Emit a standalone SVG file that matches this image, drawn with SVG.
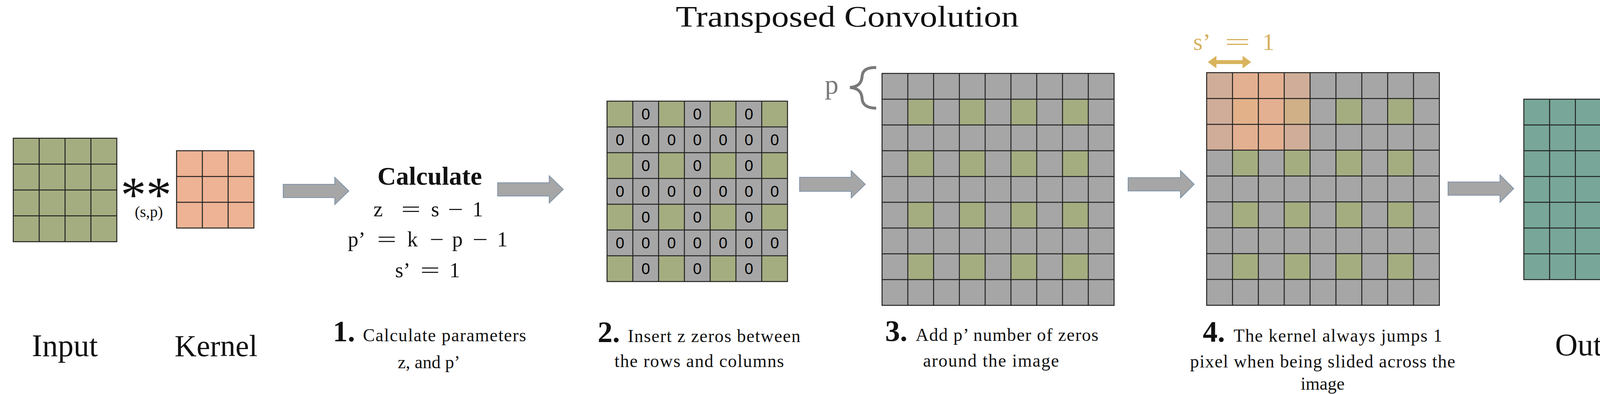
<svg xmlns="http://www.w3.org/2000/svg" width="4400" height="1009" viewBox="0 0 4400 1009">
<style>
.t{font-family:"Liberation Serif","Times New Roman",serif;fill:#111}
.bd{font-weight:bold}
.m{text-anchor:middle}
.eq{font-family:"Liberation Serif","Times New Roman",serif;font-size:54px;fill:#111;text-anchor:middle}
.z{font-family:"Liberation Sans",Arial,sans-serif;font-size:40px;fill:#000;text-anchor:middle}
.gl{fill:none;stroke:#222;stroke-width:2.5}
.gr{fill:#a6a6a6}
.gn{fill:#a4ad80}
.kn{fill:#edb394}
.tl{fill:#78a799}
.arr{fill:#a6a6a6;stroke:#7f93a8;stroke-width:2;stroke-linejoin:miter}
.ov{fill:#f2b28c;opacity:0.55}
.gold{font-family:"Liberation Serif","Times New Roman",serif;font-size:62px;fill:#d6b060;text-anchor:middle}
</style>
<rect width="4400" height="1009" fill="#fff"/>

<text id="title" class="t m" x="2169" y="68" font-size="76" textLength="878" lengthAdjust="spacingAndGlyphs">Transposed Convolution</text>

<g id="input">
<rect class="gn" x="34" y="354" width="265" height="265"/>
<path class="gl" d="M100.25,354V619M166.5,354V619M232.75,354V619M34,420.25H299M34,486.5H299M34,552.75H299"/>
<rect class="gl" x="34" y="354" width="265" height="265"/>
<text class="t m" x="166" y="912" font-size="80">Input</text>
</g>

<g id="operator">
<text class="t m" x="374" y="542" font-size="130">**</text>
<text class="t m" x="381" y="556" font-size="40">(s,p)</text>
</g>

<g id="kernel">
<rect class="kn" x="452" y="386" width="198" height="198"/>
<path class="gl" d="M518,386V584M584,386V584M452,452H650M452,518H650"/>
<rect class="gl" x="452" y="386" width="198" height="198"/>
<text class="t m" x="553" y="912" font-size="78">Kernel</text>
</g>

<g id="calculate">
<text class="t bd m" x="1100" y="473" font-size="66">Calculate</text>
<text class="eq" x="968" y="554">z</text>
<text class="eq" x="1052" y="554" textLength="50" lengthAdjust="spacingAndGlyphs">=</text>
<text class="eq" x="1114" y="554">s</text>
<text class="eq" x="1166" y="554" textLength="39" lengthAdjust="spacingAndGlyphs">−</text>
<text class="eq" x="1223" y="554">1</text>
<text class="eq" x="913" y="631">p’</text>
<text class="eq" x="990" y="631" textLength="50" lengthAdjust="spacingAndGlyphs">=</text>
<text class="eq" x="1056" y="631">k</text>
<text class="eq" x="1118" y="631" textLength="36" lengthAdjust="spacingAndGlyphs">−</text>
<text class="eq" x="1171" y="631">p</text>
<text class="eq" x="1229" y="631" textLength="39" lengthAdjust="spacingAndGlyphs">−</text>
<text class="eq" x="1286" y="631">1</text>
<text class="eq" x="1031" y="710">s’</text>
<text class="eq" x="1101" y="710" textLength="50" lengthAdjust="spacingAndGlyphs">=</text>
<text class="eq" x="1164" y="710">1</text>
<text class="t bd" x="852" y="874" font-size="76">1.</text>
<text class="t" x="929" y="874" font-size="46" textLength="418" lengthAdjust="spacing">Calculate parameters</text>
<text class="t m" x="1098" y="943" font-size="46">z, and p’</text>
</g>

<g id="zeros-inserted">
<rect class="gr" x="1554" y="259" width="462" height="462"/>
<g class="gn">
<rect x="1554" y="259" width="66" height="66"/><rect x="1686" y="259" width="66" height="66"/><rect x="1818" y="259" width="66" height="66"/><rect x="1950" y="259" width="66" height="66"/>
<rect x="1554" y="391" width="66" height="66"/><rect x="1686" y="391" width="66" height="66"/><rect x="1818" y="391" width="66" height="66"/><rect x="1950" y="391" width="66" height="66"/>
<rect x="1554" y="523" width="66" height="66"/><rect x="1686" y="523" width="66" height="66"/><rect x="1818" y="523" width="66" height="66"/><rect x="1950" y="523" width="66" height="66"/>
<rect x="1554" y="655" width="66" height="66"/><rect x="1686" y="655" width="66" height="66"/><rect x="1818" y="655" width="66" height="66"/><rect x="1950" y="655" width="66" height="66"/>
</g>
<path class="gl" d="M1620,259V721M1686,259V721M1752,259V721M1818,259V721M1884,259V721M1950,259V721M1554,325H2016M1554,391H2016M1554,457H2016M1554,523H2016M1554,589H2016M1554,655H2016"/>
<rect class="gl" x="1554" y="259" width="462" height="462"/>
<text class="z" x="1653 1785 1917" y="306">000</text>
<text class="z" x="1587 1653 1719 1785 1851 1917 1983" y="372">0000000</text>
<text class="z" x="1653 1785 1917" y="438">000</text>
<text class="z" x="1587 1653 1719 1785 1851 1917 1983" y="504">0000000</text>
<text class="z" x="1653 1785 1917" y="570">000</text>
<text class="z" x="1587 1653 1719 1785 1851 1917 1983" y="636">0000000</text>
<text class="z" x="1653 1785 1917" y="702">000</text>
<text class="t bd" x="1530" y="876" font-size="76">2.</text>
<text class="t" x="1607" y="876" font-size="46" textLength="442" lengthAdjust="spacing">Insert z zeros between</text>
<text class="t m" x="1790" y="940" font-size="46" textLength="434" lengthAdjust="spacing">the rows and columns</text>
</g>

<g id="padded">
<text class="m" x="2129" y="240" font-family="Liberation Serif, serif" font-size="70" fill="#7a7a7a">p</text>
<path d="M2243,173C2220,172 2208,180 2207,195C2206,212 2198,222 2176,224C2198,226 2206,236 2207,253C2208,268 2220,277 2243,277" fill="none" stroke="#7a7a7a" stroke-width="7.5" stroke-linecap="butt"/>
<rect class="gr" x="2258" y="188" width="594" height="594"/>
<g class="gn">
<rect x="2324" y="254" width="66" height="66"/><rect x="2456" y="254" width="66" height="66"/><rect x="2588" y="254" width="66" height="66"/><rect x="2720" y="254" width="66" height="66"/>
<rect x="2324" y="386" width="66" height="66"/><rect x="2456" y="386" width="66" height="66"/><rect x="2588" y="386" width="66" height="66"/><rect x="2720" y="386" width="66" height="66"/>
<rect x="2324" y="518" width="66" height="66"/><rect x="2456" y="518" width="66" height="66"/><rect x="2588" y="518" width="66" height="66"/><rect x="2720" y="518" width="66" height="66"/>
<rect x="2324" y="650" width="66" height="66"/><rect x="2456" y="650" width="66" height="66"/><rect x="2588" y="650" width="66" height="66"/><rect x="2720" y="650" width="66" height="66"/>
</g>
<path class="gl" d="M2324,188V782M2390,188V782M2456,188V782M2522,188V782M2588,188V782M2654,188V782M2720,188V782M2786,188V782M2258,254H2852M2258,320H2852M2258,386H2852M2258,452H2852M2258,518H2852M2258,584H2852M2258,650H2852M2258,716H2852"/>
<rect class="gl" x="2258" y="188" width="594" height="594"/>
<text class="t bd" x="2266" y="873" font-size="76">3.</text>
<text class="t" x="2344" y="873" font-size="46" textLength="468" lengthAdjust="spacing">Add p’ number of zeros</text>
<text class="t m" x="2537" y="939" font-size="46" textLength="348" lengthAdjust="spacing">around the image</text>
</g>

<g id="sliding">
<text class="gold" x="3077" y="128">s’</text>
<text class="gold" x="3168" y="128" textLength="66" lengthAdjust="spacingAndGlyphs">=</text>
<text class="gold" x="3247" y="128">1</text>
<polygon points="3092,159 3114,143 3114,154 3181,154 3181,143 3203,159 3181,175 3181,164 3114,164 3114,175" fill="#d9b45d"/>
<rect class="gr" x="3089" y="186" width="595.8" height="595.8"/>
<g class="gn">
<rect x="3155.2" y="252.2" width="66.2" height="66.2"/><rect x="3287.6" y="252.2" width="66.2" height="66.2"/><rect x="3420" y="252.2" width="66.2" height="66.2"/><rect x="3552.4" y="252.2" width="66.2" height="66.2"/>
<rect x="3155.2" y="384.6" width="66.2" height="66.2"/><rect x="3287.6" y="384.6" width="66.2" height="66.2"/><rect x="3420" y="384.6" width="66.2" height="66.2"/><rect x="3552.4" y="384.6" width="66.2" height="66.2"/>
<rect x="3155.2" y="517" width="66.2" height="66.2"/><rect x="3287.6" y="517" width="66.2" height="66.2"/><rect x="3420" y="517" width="66.2" height="66.2"/><rect x="3552.4" y="517" width="66.2" height="66.2"/>
<rect x="3155.2" y="649.4" width="66.2" height="66.2"/><rect x="3287.6" y="649.4" width="66.2" height="66.2"/><rect x="3420" y="649.4" width="66.2" height="66.2"/><rect x="3552.4" y="649.4" width="66.2" height="66.2"/>
</g>
<rect class="ov" x="3089" y="186" width="198.6" height="198.6"/>
<rect class="ov" x="3155.2" y="186" width="198.6" height="198.6"/>
<path class="gl" d="M3155.2,186V781.8M3221.4,186V781.8M3287.6,186V781.8M3353.8,186V781.8M3420,186V781.8M3486.2,186V781.8M3552.4,186V781.8M3618.6,186V781.8M3089,252.2H3684.8M3089,318.4H3684.8M3089,384.6H3684.8M3089,450.8H3684.8M3089,517H3684.8M3089,583.2H3684.8M3089,649.4H3684.8M3089,715.6H3684.8"/>
<rect class="gl" x="3089" y="186" width="595.8" height="595.8"/>
<text class="t bd" x="3079" y="875" font-size="76">4.</text>
<text class="t" x="3158" y="875" font-size="46" textLength="534" lengthAdjust="spacing">The kernel always jumps 1</text>
<text class="t m" x="3386" y="941" font-size="46" textLength="679" lengthAdjust="spacing">pixel when being slided across the</text>
<text class="t m" x="3386" y="998" font-size="46">image</text>
</g>

<g id="output">
<rect class="tl" x="3901" y="254" width="462" height="462"/>
<path class="gl" d="M3967,254V716M4033,254V716M4099,254V716M4165,254V716M4231,254V716M4297,254V716M3901,320H4363M3901,386H4363M3901,452H4363M3901,518H4363M3901,584H4363M3901,650H4363"/>
<rect class="gl" x="3901" y="254" width="462" height="462"/>
<text class="t m" x="4092" y="910" font-size="80">Output</text>
</g>

<g id="connectors">
<polygon class="arr" points="725,472 857,472 857,454 893,489 857,524 857,506 725,506"/>
<polygon class="arr" points="1274,468 1406,468 1406,450 1442,485 1406,520 1406,502 1274,502"/>
<polygon class="arr" points="2047,454 2179,454 2179,437 2215,472 2179,507 2179,490 2047,490"/>
<polygon class="arr" points="2888,455 3022,455 3022,437 3057,472 3022,507 3022,489 2888,489"/>
<polygon class="arr" points="3707,466 3840,466 3840,448 3875,483 3840,518 3840,500 3707,500"/>
</g>
</svg>
